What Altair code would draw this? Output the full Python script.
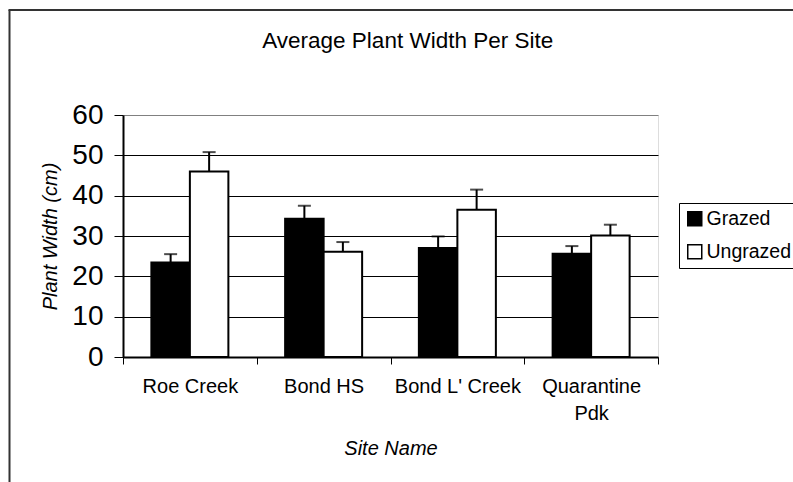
import altair as alt
import pandas as pd

chart_title = "Average Plant Width Per Site"
sites = ["Roe Creek", "Bond HS", "Bond L' Creek", "Quarantine Pdk"]
treatments = ["Grazed", "Ungrazed"]
grazed_mean = [23.4, 34.3, 27.0, 25.6]
grazed_err = [2.1, 3.2, 2.9, 1.9]
ungrazed_mean = [46.0, 26.1, 36.5, 30.1]
ungrazed_err = [4.8, 2.4, 5.0, 2.7]
y_ticks = [0, 10, 20, 30, 40, 50, 60]

rows = []
for i, s in enumerate(sites):
    rows.append({"site": s, "treatment": "Grazed", "mean": grazed_mean[i],
                 "top": round(grazed_mean[i] + grazed_err[i], 2)})
    rows.append({"site": s, "treatment": "Ungrazed", "mean": ungrazed_mean[i],
                 "top": round(ungrazed_mean[i] + ungrazed_err[i], 2)})
df = pd.DataFrame(rows)

FONT = "Liberation Sans"

x_enc = alt.X(
    "site:N", sort=sites,
    scale=alt.Scale(paddingInner=0, paddingOuter=0),
    axis=alt.Axis(
        title="Site Name", titleFontStyle="italic", titleFontWeight="normal",
        titleFontSize=20, titleFont=FONT, titleColor="black", titlePadding=15,
        labelFont=FONT, labelFontSize=20, labelColor="black", labelAngle=0,
        labelPadding=12, labelLineHeight=27,
        labelExpr="datum.label == 'Quarantine Pdk' ? ['Quarantine', 'Pdk'] : datum.label",
        tickBand="extent", tickSize=7, tickColor="black", tickWidth=1,
        domainColor="black", domainWidth=2, grid=False,
    ),
)
xoff_enc = alt.XOffset("treatment:N", sort=treatments,
                       scale=alt.Scale(paddingInner=0, paddingOuter=0.737))
y_scale = alt.Scale(domain=[0, 60], nice=False)

bars = alt.Chart(df).mark_bar(stroke="black", strokeWidth=2).encode(
    x=x_enc,
    xOffset=xoff_enc,
    y=alt.Y("mean:Q", scale=y_scale, axis=alt.Axis(
        values=y_ticks, title="Plant Width (cm)", titleFontStyle="italic",
        titleFontWeight="normal", titleFontSize=20, titleFont=FONT,
        titleColor="black", titlePadding=11,
        labelFont=FONT, labelFontSize=28, labelColor="black", labelPadding=11,
        tickSize=9, tickColor="black", tickWidth=1,
        domainColor="black", domainWidth=2,
        gridColor={"condition": {"test": "datum.value === 60", "value": "#808080"},
                   "value": "black"},
        gridWidth=1,
    )),
    color=alt.Color("treatment:N", sort=treatments,
                    scale=alt.Scale(domain=treatments, range=["black", "white"]),
                    legend=alt.Legend(
                        title=None, orient="none", legendX=556, legendY=88,
                        symbolType="square", symbolSize=196,
                        symbolStrokeColor="black", symbolStrokeWidth=1.5,
                        labelFont=FONT, labelFontSize=19.5, labelColor="black",
                        labelOffset=2, rowPadding=12, padding=6,
                        strokeColor="black", fillColor="white",
                    )),
)

err = alt.Chart(df).mark_rule(color="black", strokeWidth=2).encode(
    x=alt.X("site:N", sort=sites), xOffset=xoff_enc,
    y=alt.Y("mean:Q", scale=y_scale), y2="top:Q",
)
caps = alt.Chart(df).mark_tick(color="black", thickness=2, size=13).encode(
    x=alt.X("site:N", sort=sites), xOffset=xoff_enc,
    y=alt.Y("top:Q", scale=y_scale),
)

frame_df = pd.DataFrame({"k": [0]})
frame_left = alt.Chart(frame_df).mark_rule(color="#333333", strokeWidth=2).encode(
    x=alt.value(-113.5), y=alt.value(-105), y2=alt.value(370))
frame_top = alt.Chart(frame_df).mark_rule(color="#333333", strokeWidth=2).encode(
    x=alt.value(-114.5), x2=alt.value(680), y=alt.value(-105))
title_text = alt.Chart(frame_df).mark_text(
    font=FONT, fontSize=22.5, color="black", align="center", baseline="alphabetic"
).encode(x=alt.value(284.7), y=alt.value(-67.3), text=alt.value(chart_title))

chart = alt.layer(bars, err, caps, frame_left, frame_top, title_text).properties(
    width=535, height=242,
    autosize=alt.AutoSizeParams(type="none"),
    padding={"left": 123, "top": 115, "right": 135, "bottom": 125},
).configure_view(stroke="#808080", strokeWidth=2).configure(background="white")

chart.save("out.html", embed_options={"renderer": "svg", "actions": False})
